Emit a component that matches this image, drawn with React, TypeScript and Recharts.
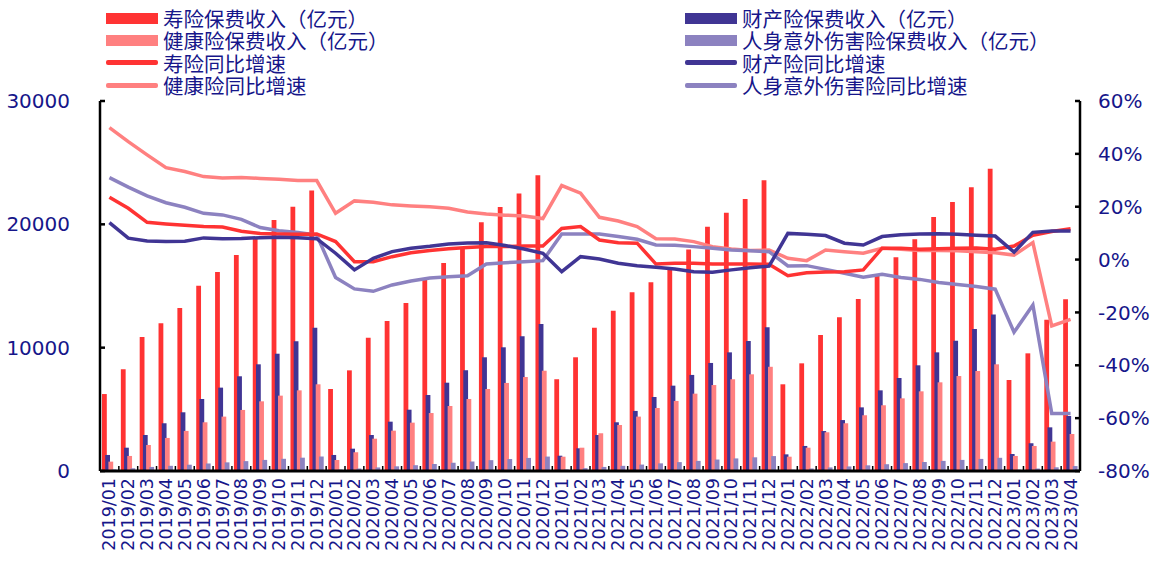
import React from "react";
import { ComposedChart, Bar, Line, XAxis, YAxis } from "recharts";

const months = [
  "2019/01", "2019/02", "2019/03", "2019/04", "2019/05", "2019/06", "2019/07", "2019/08", "2019/09", "2019/10", "2019/11", "2019/12",
  "2020/01", "2020/02", "2020/03", "2020/04", "2020/05", "2020/06", "2020/07", "2020/08", "2020/09", "2020/10", "2020/11", "2020/12",
  "2021/01", "2021/02", "2021/03", "2021/04", "2021/05", "2021/06", "2021/07", "2021/08", "2021/09", "2021/10", "2021/11", "2021/12",
  "2022/01", "2022/02", "2022/03", "2022/04", "2022/05", "2022/06", "2022/07", "2022/08", "2022/09", "2022/10", "2022/11", "2022/12",
  "2023/01", "2023/02", "2023/03", "2023/04",
];

// 保费收入（亿元），累计值
const lifePremium = [
  6240, 8250, 10870, 11980, 13220, 15030, 16140, 17510, 18970, 20350, 21430, 22750,
  6650, 8160, 10810, 12160, 13620, 15490, 16870, 18150, 20160, 21400, 22510, 23980,
  7440, 9220, 11620, 13000, 14490, 15300, 16420, 17950, 19810, 20940, 22050, 23570,
  7030, 8730, 11030, 12460, 13950, 15890, 17330, 18790, 20600, 21810, 23000, 24510,
  7380, 9540, 12270, 13920,
];
const propertyPremium = [
  1300, 1890, 2920, 3870, 4760, 5840, 6760, 7680, 8650, 9510, 10520, 11620,
  1300, 1810, 2920, 4000, 4970, 6160, 7160, 8170, 9220, 10030, 10920, 11920,
  1240, 1840, 2920, 3950, 4870, 6000, 6920, 7790, 8760, 9620, 10540, 11650,
  1350, 2030, 3240, 4130, 5160, 6540, 7540, 8570, 9620, 10570, 11520, 12680,
  1380, 2250, 3540, 4460,
];
const healthPremium = [
  760, 1220, 2110, 2680, 3250, 3950, 4410, 4950, 5650, 6110, 6540, 7030,
  890, 1520, 2620, 3270, 3920, 4700, 5270, 5840, 6650, 7140, 7620, 8130,
  1160, 1890, 3060, 3730, 4410, 5110, 5680, 6270, 6970, 7440, 7840, 8450,
  1160, 1890, 3140, 3870, 4520, 5330, 5890, 6460, 7190, 7700, 8110, 8650,
  1220, 2030, 2380, 3000,
];
const accidentPremium = [
  130, 220, 330, 420, 510, 610, 700, 800, 900, 990, 1080, 1175,
  120, 200, 290, 380, 470, 570, 670, 770, 880, 970, 1060, 1170,
  130, 230, 330, 420, 520, 620, 720, 820, 930, 1020, 1110, 1210,
  110, 200, 290, 370, 460, 550, 640, 730, 820, 900, 980, 1070,
  110, 200, 300, 400,
];

// 同比增速（%）
const lifeYoY = [
  23.6, 19.4, 14.1, 13.5, 13.0, 12.5, 12.3, 10.7, 9.9, 9.7, 9.6, 9.7,
  6.8, -0.8, -0.8, 1.1, 2.6, 3.4, 4.1, 4.6, 4.9, 4.9, 5.1, 5.1,
  11.8, 12.5, 7.4, 6.4, 6.2, -1.7, -1.4, -1.4, -1.7, -1.7, -1.7, -1.8,
  -6.1, -5.0, -4.7, -4.6, -3.9, 4.3, 4.3, 3.9, 4.1, 4.3, 4.4, 3.9,
  5.1, 9.2, 10.6, 11.7,
];
const healthYoY = [
  49.9, 44.6, 39.6, 34.8, 33.3, 31.4, 30.9, 31.1, 30.7, 30.4, 29.9, 29.9,
  17.5, 22.2, 21.7, 20.7, 20.3, 20.0, 19.4, 18.0, 17.2, 16.8, 16.5, 15.5,
  28.0, 25.1, 16.0, 14.6, 12.5, 7.9, 7.8, 6.8, 4.9, 4.0, 3.4, 3.6,
  0.5, -0.4, 3.6, 3.0, 2.4, 4.3, 3.9, 3.4, 3.4, 3.3, 3.0, 2.6,
  1.7, 6.4, -25.1, -22.6,
];
const propertyYoY = [
  14.0, 8.1, 7.0, 6.8, 6.9, 8.2, 7.9, 8.0, 8.3, 8.4, 8.3, 7.9,
  2.4, -3.9, 0.5, 3.0, 4.3, 5.0, 5.9, 6.3, 6.4, 5.3, 4.0, 2.4,
  -4.6, 1.1, 0.2, -1.4, -2.3, -2.9, -3.6, -4.6, -4.8, -3.9, -3.1, -2.5,
  9.9, 9.6, 9.1, 6.2, 5.5, 8.7, 9.4, 9.7, 9.8, 9.6, 9.2, 8.9,
  2.8, 10.3, 10.8, 10.8,
];
const accidentYoY = [
  31.0, 27.4, 24.1, 21.5, 19.8, 17.5, 16.9, 15.2, 12.1, 10.9, 10.2, 9.3,
  -6.8, -11.1, -12.0, -9.6, -8.1, -7.0, -6.5, -6.1, -1.7, -1.2, -0.8, -0.4,
  9.7, 9.7, 9.7, 8.7, 7.7, 5.5, 5.4, 4.9, 4.3, 3.6, 3.3, 3.0,
  -2.4, -2.3, -3.7, -5.2, -6.7, -5.6, -6.8, -7.5, -8.7, -9.4, -10.2, -11.2,
  -27.5, -17.2, -58.2, -58.2,
];

const leftTicks = [0, 10000, 20000, 30000];
const rightTicks = [-80, -60, -40, -20, 0, 20, 40, 60];

const RED = "#ff3333";
const NAVY = "#403594";
const PINK = "#ff8080";
const LILAC = "#8c82c0";
const TEXT = "#16168a";

const data = months.map((m, i) => ({
  month: m,
  life: lifePremium[i],
  property: propertyPremium[i],
  health: healthPremium[i],
  accident: accidentPremium[i],
  lifeYoY: lifeYoY[i],
  propertyYoY: propertyYoY[i],
  healthYoY: healthYoY[i],
  accidentYoY: accidentYoY[i],
}));

const W = 1152;
const H = 563;
const PLOT_LEFT = 100;
const PLOT_RIGHT = 1080;
const BAND = (PLOT_RIGHT - PLOT_LEFT) / months.length;

const legendItems = [
  { name: "寿险保费收入（亿元）", color: RED, bar: true },
  { name: "财产险保费收入（亿元）", color: NAVY, bar: true },
  { name: "健康险保费收入（亿元）", color: PINK, bar: true },
  { name: "人身意外伤害险保费收入（亿元）", color: LILAC, bar: true },
  { name: "寿险同比增速", color: RED, bar: false },
  { name: "财产险同比增速", color: NAVY, bar: false },
  { name: "健康险同比增速", color: PINK, bar: false },
  { name: "人身意外伤害险同比增速", color: LILAC, bar: false },
];

const numFont = "'DejaVu Sans', 'Noto Sans', sans-serif";

function XTick(props: any) {
  const { x, y, payload } = props;
  return (
    <g>
      <line x1={x - BAND / 2} x2={x - BAND / 2} y1={y} y2={y - 5} stroke="#000" strokeWidth={1.5} />
      <text
        x={x}
        y={y + 7}
        transform={`rotate(-90 ${x} ${y + 7})`}
        textAnchor="end"
        dominantBaseline="central"
        fill={TEXT}
        fontSize={17.5}
        fontFamily={numFont}
      >
        {payload.value}
      </text>
    </g>
  );
}

function LegendBlock() {
  return (
    <div style={{ position: "absolute", left: 0, top: 0, width: W, height: 100, pointerEvents: "none" }}>
      {legendItems.map((it, i) => {
        const col = i % 2;
        const row = Math.floor(i / 2);
        const left = col === 0 ? 106 : 685;
        const cy = 18 + row * 22.4;
        return (
          <div
            key={it.name}
            style={{ position: "absolute", left, top: cy - 11, height: 22, display: "flex", alignItems: "center" }}
          >
            <div
              style={{
                width: 52,
                height: it.bar ? 11 : 5,
                background: it.color,
                borderRadius: it.bar ? 0 : 2,
                marginRight: 5,
              }}
            />
            <span
              style={{
                fontFamily: "'Noto Sans CJK SC', sans-serif",
                fontSize: 20.5,
                color: TEXT,
                lineHeight: "22px",
                whiteSpace: "nowrap",
              }}
            >
              {it.name}
            </span>
          </div>
        );
      })}
    </div>
  );
}

export default function App() {
  return (
    <div style={{ position: "absolute", left: 0, top: 0, width: W, height: H, background: "#fff" }}>
      <ComposedChart
        width={W}
        height={H}
        data={data}
        margin={{ top: 101, right: 0, bottom: 0, left: 0 }}
        barSize={4.8}
        barGap={-1.6}
      >
        <XAxis
          dataKey="month"
          interval={0}
          height={92}
          tickLine={false}
          tickSize={0}
          tickMargin={0}
          tick={<XTick />}
          axisLine={{ stroke: "#000", strokeWidth: 3 }}
        />
        <YAxis
          yAxisId="l"
          width={PLOT_LEFT}
          domain={[0, 30000]}
          ticks={leftTicks}
          interval={0}
          tickSize={-5}
          tickMargin={35}
          tickLine={{ stroke: "#000", strokeWidth: 2.5 }}
          axisLine={{ stroke: "#000", strokeWidth: 2.5 }}
          tick={{ fill: TEXT, fontSize: 20, fontFamily: numFont }}
        />
        <YAxis
          yAxisId="r"
          orientation="right"
          width={W - PLOT_RIGHT}
          domain={[-80, 60]}
          ticks={rightTicks}
          interval={0}
          tickSize={-5}
          tickMargin={23}
          tickFormatter={(v: number) => `${v}%`}
          tickLine={{ stroke: "#000", strokeWidth: 2.5 }}
          axisLine={{ stroke: "#000", strokeWidth: 2.5 }}
          tick={{ fill: TEXT, fontSize: 20, fontFamily: numFont, textAnchor: "start" }}
        />
        <Bar yAxisId="l" dataKey="life" fill={RED} isAnimationActive={false} />
        <Bar yAxisId="l" dataKey="property" fill={NAVY} isAnimationActive={false} />
        <Bar yAxisId="l" dataKey="health" fill={PINK} isAnimationActive={false} />
        <Bar yAxisId="l" dataKey="accident" fill={LILAC} isAnimationActive={false} />
        <Line yAxisId="r" dataKey="healthYoY" stroke={PINK} strokeWidth={3.5} dot={false} isAnimationActive={false} />
        <Line yAxisId="r" dataKey="accidentYoY" stroke={LILAC} strokeWidth={3.5} dot={false} isAnimationActive={false} />
        <Line yAxisId="r" dataKey="lifeYoY" stroke={RED} strokeWidth={3.5} dot={false} isAnimationActive={false} />
        <Line yAxisId="r" dataKey="propertyYoY" stroke={NAVY} strokeWidth={3.5} dot={false} isAnimationActive={false} />
      </ComposedChart>
      <LegendBlock />
    </div>
  );
}
